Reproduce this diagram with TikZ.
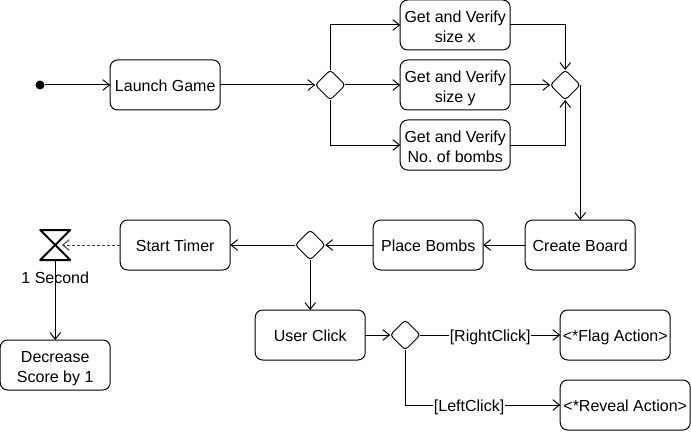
\documentclass[tikz,border=0pt]{standalone}
\usepackage{fontspec}
\setmainfont{Liberation Sans}
\usepackage{xcolor}
\usetikzlibrary{arrows.meta,positioning,shapes.geometric}

\begin{document}
\begin{tikzpicture}[
  x=0.75pt, y=-0.75pt,
  font=\fontsize{12}{15}\selectfont\frenchspacing,
  box/.style={draw, rounded corners=5.5pt, align=center, line width=0.75pt, minimum width=82.5pt, minimum height=37.5pt, inner sep=1pt, outer sep=0pt, text height=10pt, text depth=0pt},
  boxtwo/.style={box, text height=26pt},
  gate/.style={draw, diamond, rounded corners=2.5pt, line width=0.75pt, minimum size=22.5pt, inner sep=0pt, outer sep=0pt},
  arr/.style={-{Straight Barb[length=5pt,width=8pt]}, line width=0.75pt},
  lbl/.style={fill=white, inner sep=0.5pt, yshift=-1.5pt}
]
  \useasboundingbox (0,0) rectangle (691,431);

  \node[circle, fill=black, minimum size=6.75pt, inner sep=0pt] (start) at (40,85) {};
  \node[box, right=49.1pt of start] (launch) {Launch Game};
  \node[gate, right=71.25pt of launch] (split) {};
  \node[boxtwo, right=41.25pt of split] (sizey) {Get and Verify\\size y};
  \node[boxtwo, above=7.5pt of sizey] (sizex) {Get and Verify\\size x};
  \node[boxtwo, below=7.5pt of sizey] (bombs) {Get and Verify\\No. of bombs};
  \node[gate, right=30pt of sizey] (merge) {};
  \node[box, below=101.25pt of merge.east] (board) {Create Board};
  \node[box, left=31.5pt of board] (place) {Place Bombs};
  \node[gate, left=36pt of place] (fork) {};
  \node[box, left=48.75pt of fork] (timer) {Start Timer};
  \node[minimum size=22.5pt, inner sep=0pt, outer sep=0pt, left=37.5pt of timer] (hour) {};
  \coordinate[right=5pt of hour.center] (hourtip);
  \node[inner sep=0pt, below=9pt of hour] (second) {1 Second};
  \node[boxtwo, below=60pt of hour] (score) {Decrease\\Score by 1};
  \node[box, below=37.5pt of fork] (click) {User Click};
  \node[gate, right=18.75pt of click] (choice) {};
  \node[box, right=105pt of choice] (flag) {<*Flag Action>};
  \node[box, minimum width=97.5pt, below right=15pt and 0pt of flag.south west] (reveal) {<*Reveal Action>};

  \draw[line width=1.5pt, line join=round] (hour.north west) -- (hour.north east) -- (hour.south west) -- (hour.south east) -- cycle;

  \draw[arr] (start) -- (launch);
  \draw[arr] (launch) -- (split);
  \draw[arr] (split) |- (sizex);
  \draw[arr] (split) -- (sizey);
  \draw[arr] (split) |- (bombs);
  \draw[arr] (sizex) -| (merge);
  \draw[arr] (sizey) -- (merge);
  \draw[arr] (bombs) -| (merge);
  \draw[arr] (merge.east) -- (board);
  \draw[arr] (board) -- (place);
  \draw[arr] (place) -- (fork);
  \draw[arr] (fork) -- (timer);
  \draw[arr, dash pattern=on 2.25pt off 1.5pt, black!75] (timer) -- (hourtip);
  \draw[arr] (hour) -- (score);
  \draw[arr] (fork) -- (click);
  \draw[arr] (click) -- (choice);
  \draw[arr] (choice) -- node[lbl] {[RightClick]} (flag);
  \draw[arr] (choice) |- node[lbl, pos=0.706] {[LeftClick]} (reveal);
\end{tikzpicture}
\end{document}
